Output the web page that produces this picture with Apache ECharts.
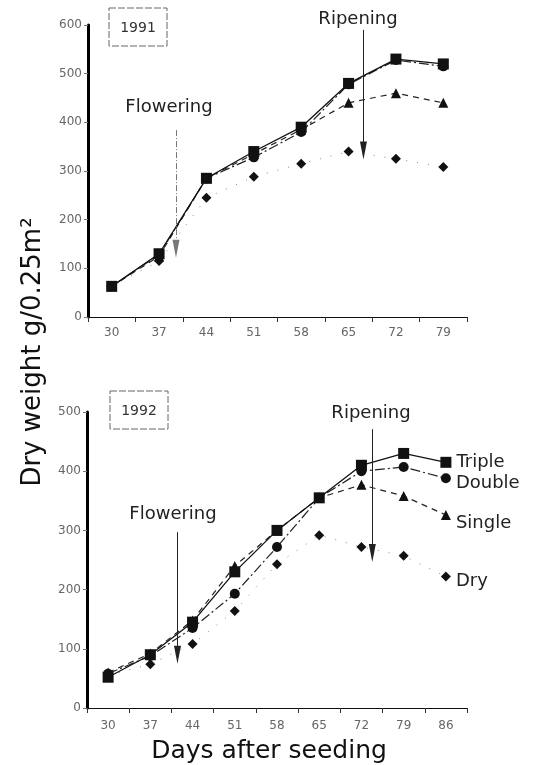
<!DOCTYPE html>
<html>
<head>
<meta charset="utf-8">
<script src="https://cdn.jsdelivr.net/npm/echarts@6/dist/echarts.min.js"></script>
<style>
    html, body { margin: 0; padding: 0; background: #fff; }
    #main { width: 551px; height: 765px; }
</style>
</head>
<body>
<div id="main"></div>
<script>
var days1991 = ['30', '37', '44', '51', '58', '65', '72', '79'];
var days1992 = ['30', '37', '44', '51', '58', '65', '72', '79', '86'];
var yTicks1991 = [0, 600, 100];
var yTicks1992 = [0, 500, 100];

var triple1991 = [63, 130, 285, 340, 390, 480, 530, 520];
var double1991 = [63, 128, 285, 328, 380, 478, 528, 515];
var single1991 = [63, 125, 285, 335, 385, 440, 460, 440];
var dry1991 = [63, 115, 245, 288, 315, 340, 325, 308];

var triple1992 = [52, 90, 145, 230, 300, 355, 410, 430, 415];
var double1992 = [58, 88, 135, 193, 272, 355, 400, 407, 388];
var single1992 = [60, 92, 148, 240, 300, 355, 377, 358, 326];
var dry1992 = [55, 74, 108, 164, 243, 292, 272, 257, 222];

// arrows: [day, from, to]
var flowering1991 = [39.5, 384, 140];
var ripening1991 = [67.2, 590, 342];
var flowering1992 = [41.5, 297, 90];
var ripening1992 = [73.8, 471, 262];

(function () {
    var myChart = echarts.init(document.getElementById('main'));
    var font = 'DejaVu Sans';

    var styles = {
        Triple: { symbol: 'rect', size: 11, type: 'solid', color: '#111', width: 1.3 },
        Double: { symbol: 'circle', size: 10, type: [10, 3, 2, 3], color: '#222', width: 1.2 },
        Single: { symbol: 'triangle', size: 10, type: [6, 5], color: '#222', width: 1.2 },
        Dry: { symbol: 'diamond', size: 10, type: [1, 10], color: '#888', width: 1 }
    };

    function makeSeries(name, values, idx, endLabel) {
        var st = styles[name];
        var offsets = { Triple: [0, 0], Double: [0, 5], Single: [0, 8], Dry: [0, 5] };
        var data = values.map(function (v, i) {
            if (endLabel && i == values.length - 1) {
                return {
                    value: v,
                    label: {
                        show: true, position: 'right', distance: 5, formatter: name,
                        fontFamily: font, fontSize: 18, color: '#222', offset: offsets[name]
                    }
                };
            }
            return v;
        });
        return {
            name: name,
            type: 'line',
            xAxisIndex: idx,
            yAxisIndex: idx,
            symbol: st.symbol,
            symbolSize: st.size,
            data: data,
            itemStyle: { color: '#111' },
            lineStyle: { color: st.color, width: st.width, type: st.type },
            z: name == 'Dry' ? 1 : 3,
            animation: false
        };
    }

    function arrow(a, idx, dashed) {
        return {
            type: 'lines',
            coordinateSystem: 'cartesian2d',
            xAxisIndex: idx + 2,
            yAxisIndex: idx,
            symbol: ['none', 'triangle'],
            symbolSize: [0, [7, 18]],
            lineStyle: { color: dashed ? '#777' : '#222', width: 1, type: dashed ? [6, 2, 1, 2] : 'solid', opacity: 1 },
            data: [{ coords: [[a[0], a[1]], [a[0], a[2]]] }],
            z: 5,
            animation: false
        };
    }

    function catAxis(idx, days) {
        return {
            type: 'category',
            gridIndex: idx,
            data: days,
            boundaryGap: true,
            axisLine: { lineStyle: { color: '#111', width: 1.2 } },
            axisTick: { show: true, length: 5, lineStyle: { color: '#333' } },
            axisLabel: { color: '#666', fontSize: 12, fontFamily: font, margin: idx == 0 ? 10 : 12 }
        };
    }

    function valAxis(idx, t) {
        return {
            type: 'value',
            gridIndex: idx,
            min: t[0], max: t[1], interval: t[2],
            axisLine: { show: true, lineStyle: { color: '#000', width: 3 } },
            axisTick: { show: true, length: 4, lineStyle: { color: '#777' } },
            axisLabel: { color: '#666', fontSize: 12, fontFamily: font, margin: 6 },
            splitLine: { show: false }
        };
    }

    function yearBox(x, y, text) {
        return [{
            type: 'rect',
            shape: { x: x, y: y, width: 58, height: 38 },
            style: { fill: 'none', stroke: '#666', lineWidth: 1, lineDash: [7, 2] }
        }, {
            type: 'text', x: x + 29, y: y + 20,
            style: { text: text, font: '14px ' + font, fill: '#333', align: 'center', verticalAlign: 'middle' }
        }];
    }

    function label(x, y, text) {
        return {
            type: 'text', x: x, y: y,
            style: { text: text, font: '18px ' + font, fill: '#222', align: 'center', verticalAlign: 'middle' }
        };
    }

    var option = {
        backgroundColor: '#fff',
        grid: [
            { left: 88, top: 25, width: 379, height: 292 },
            { left: 87, top: 412, width: 380, height: 296 }
        ],
        xAxis: [
            catAxis(0, days1991),
            catAxis(1, days1992),
            { type: 'value', gridIndex: 0, min: 26.5, max: 82.5, show: false },
            { type: 'value', gridIndex: 1, min: 26.5, max: 89.5, show: false }
        ],
        yAxis: [valAxis(0, yTicks1991), valAxis(1, yTicks1992)],
        series: [
            makeSeries('Dry', dry1991, 0, false),
            makeSeries('Single', single1991, 0, false),
            makeSeries('Double', double1991, 0, false),
            makeSeries('Triple', triple1991, 0, false),
            makeSeries('Dry', dry1992, 1, true),
            makeSeries('Single', single1992, 1, true),
            makeSeries('Double', double1992, 1, true),
            makeSeries('Triple', triple1992, 1, true),
            arrow(flowering1991, 0, true),
            arrow(ripening1991, 0, false),
            arrow(flowering1992, 1, false),
            arrow(ripening1992, 1, false)
        ],
        graphic: [].concat(
            yearBox(109, 8, '1991'),
            yearBox(110, 391, '1992'),
            [
                label(169, 107, 'Flowering'),
                label(358, 19, 'Ripening'),
                label(173, 514, 'Flowering'),
                label(371, 413, 'Ripening'),
                {
                    type: 'text', x: 33, y: 352, rotation: Math.PI / 2,
                    style: { text: 'Dry weight g/0.25m²', font: '26px ' + font, fill: '#111', align: 'center', verticalAlign: 'middle' }
                },
                {
                    type: 'text', x: 269, y: 751,
                    style: { text: 'Days after seeding', font: '25px ' + font, fill: '#111', align: 'center', verticalAlign: 'middle' }
                }
            ]
        )
    };
    myChart.setOption(option);
})();
</script>
</body>
</html>
